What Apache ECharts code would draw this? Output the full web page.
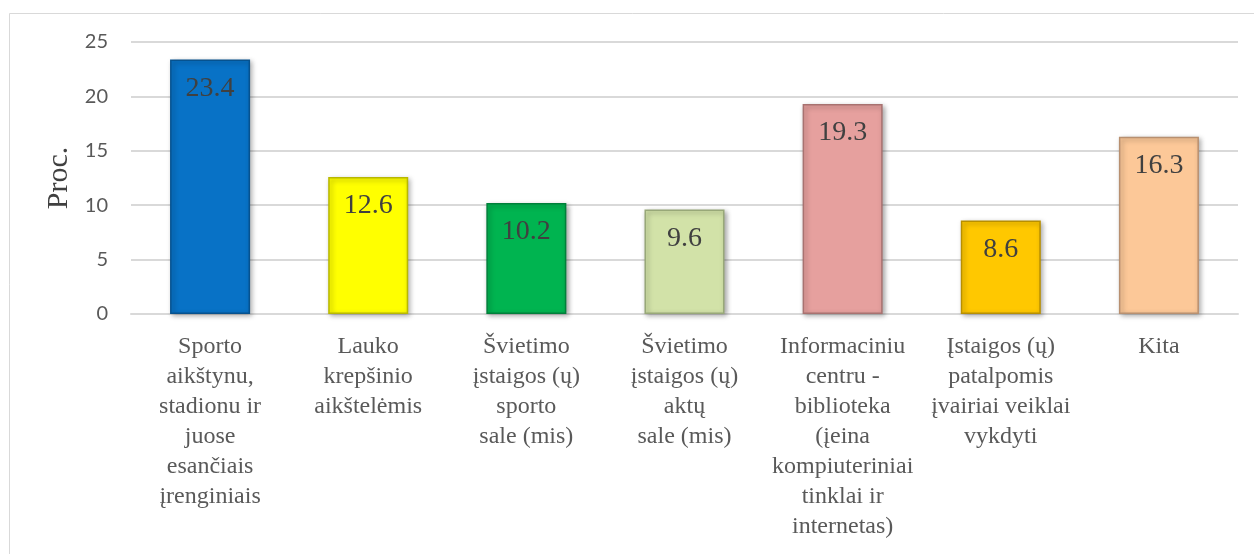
<!DOCTYPE html>
<html>
<head>
<meta charset="utf-8">
<script src="https://cdn.jsdelivr.net/npm/echarts@6/dist/echarts.min.js"></script>
<style>
  html, body { margin: 0; padding: 0; background: #fff; }
  #chart { width: 1254px; height: 554px; }
</style>
</head>
<body>
<div id="chart"></div>
<script>
// kategorijos (x ašis)
const categories = [
    'Sporto\naikštynu,\nstadionu ir\njuose\nesančiais\nįrenginiais',
    'Lauko\nkrepšinio\naikštelėmis',
    'Švietimo\nįstaigos (ų)\nsporto\nsale (mis)',
    'Švietimo\nįstaigos (ų)\naktų\nsale (mis)',
    'Informaciniu\ncentru -\nbiblioteka\n(įeina\nkompiuteriniai\ntinklai ir\ninternetas)',
    'Įstaigos (ų)\npatalpomis\nįvairiai veiklai\nvykdyti',
    'Kita'
];
// reikšmės, proc.
const values = [23.4, 12.6, 10.2, 9.6, 19.3, 8.6, 16.3];
// stulpelių spalvos
const barColors = ['#0872C6', '#FFFF00', '#00B450', '#D2E2A8', '#E6A09E', '#FFC800', '#FCC898'];
const borderColors = ['#06528f', '#b8b800', '#00803a', '#98a878', '#a87270', '#b88f00', '#b89070'];
const yTicks = [0, 5, 10, 15, 20, 25];

const chart = echarts.init(document.getElementById('chart'));

chart.setOption({
    backgroundColor: '#fff',
    animation: false,
    graphic: [{
        type: 'rect',
        shape: { x: 9.5, y: 13.5, width: 1280, height: 600 },
        style: { fill: 'none', stroke: '#d9d9d9', lineWidth: 1 },
        silent: true
    }],
    grid: {
        left: 131,
        right: 16,
        top: 42,
        bottom: 240
    },
    xAxis: {
        type: 'category',
        data: categories,
        axisLine: { lineStyle: { color: '#d9d9d9', width: 2 } },
        axisTick: { show: false },
        axisLabel: {
            interval: 0,
            margin: 18,
            color: '#595959',
            fontFamily: 'Liberation Serif',
            fontSize: 24,
            lineHeight: 30
        }
    },
    yAxis: {
        type: 'value',
        min: yTicks[0],
        max: yTicks[yTicks.length - 1],
        interval: 5,
        name: 'Proc.',
        nameLocation: 'middle',
        nameGap: 56,
        nameTextStyle: {
            fontFamily: 'Liberation Serif',
            fontSize: 30,
            color: '#404040'
        },
        axisLine: { show: false },
        axisTick: { show: false },
        splitLine: { lineStyle: { color: '#d9d9d9', width: 2 } },
        axisLabel: {
            margin: 23,
            color: '#595959',
            fontFamily: 'Lato',
            fontSize: 20
        }
    },
    series: [{
        type: 'bar',
        barWidth: '50.6%',
        data: values.map((v, i) => ({
            value: v,
            itemStyle: {
                color: barColors[i],
                borderColor: borderColors[i],
                borderWidth: 1.5
            }
        })),
        itemStyle: {
            shadowColor: 'rgba(0,0,0,0.35)',
            shadowBlur: 5,
            shadowOffsetX: 2,
            shadowOffsetY: 2
        },
        label: {
            show: true,
            position: 'insideTop',
            distance: 15,
            color: '#404040',
            fontFamily: 'Liberation Serif',
            fontSize: 28
        }
    }]
});
</script>
</body>
</html>
